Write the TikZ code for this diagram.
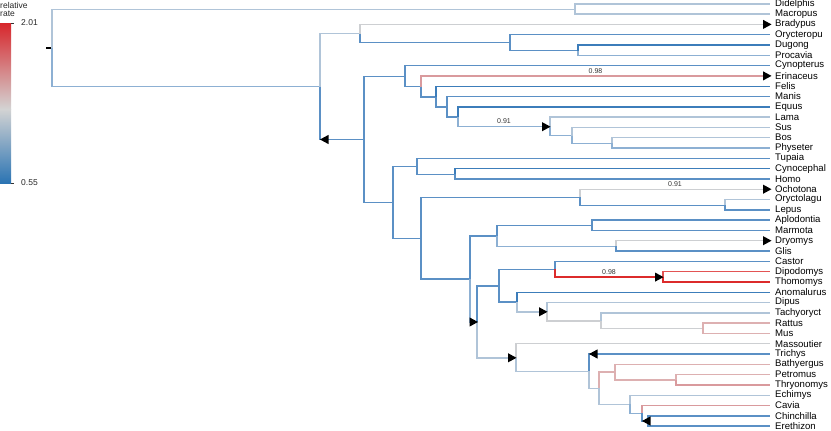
\documentclass[tikz,border=0pt]{standalone}
\usepackage{fontspec}
\setmainfont{Liberation Sans}
\usepackage{xcolor}
\usepackage{tikz}
\usetikzlibrary{calc}
\definecolor{rtA}{HTML}{3C7DBA}
\definecolor{rtB}{HTML}{5B90C5}
\definecolor{rtC}{HTML}{8DB0D3}
\definecolor{rtD}{HTML}{B0C4D8}
\definecolor{rtE}{HTML}{CDCFD2}
\definecolor{rtF}{HTML}{DDB0B1}
\definecolor{rtG}{HTML}{D99A9D}
\definecolor{rtH}{HTML}{E35454}
\definecolor{rtI}{HTML}{DC2B2B}
\definecolor{barTop}{HTML}{D7262B}
\definecolor{barMid}{HTML}{D3D3D3}
\definecolor{barBot}{HTML}{2B74B3}
\tikzset{
  branch/.style={line width=1.4pt},
  tiplab/.style={anchor=west, inner sep=0pt, font=\fontsize{9.6}{10}\selectfont},
  blab/.style={anchor=south, inner sep=0pt, font=\fontsize{7}{8}\selectfont, text=black!80},
  leglab/.style={anchor=west, inner sep=0pt, font=\fontsize{8.5}{9}\selectfont, text=black!85},
  mkR/.pic={\fill[black] (0,0) -- (-8.5,-4.6) -- (-8.5,4.6) -- cycle;},
  mkL/.pic={\fill[black] (0,0) -- (8.5,-4.6) -- (8.5,4.6) -- cycle;}
}

\begin{document}
\begin{tikzpicture}[x=1pt,y=-1pt]
  \useasboundingbox (0,0) rectangle (831,431);

  % legend
  \shade[top color=barTop, bottom color=barMid] (0,23) rectangle (11,109);
  \shade[top color=barMid, bottom color=barBot] (0,109) rectangle (11,183);
  \draw[black!80, line width=0.6pt] (11,23) -- (14,23) (11,183) -- (14,183);
  \node[leglab] (legA) at (0,5) {relative};
  \node[leglab] (legB) at (0,14) {rate};
  \node[leglab] (legHi) at (21,23) {2.01};
  \node[leglab] (legLo) at (21,183) {0.55};

  % tips
  \foreach \nm/\lab [count=\i from 0] in {didelphis/Didelphis, macropus/Macropus,
      bradypus/Bradypus, orycteropu/Orycteropu, dugong/Dugong, procavia/Procavia,
      cynopterus/Cynopterus, erinaceus/Erinaceus, felis/Felis, manis/Manis,
      equus/Equus, lama/Lama, sus/Sus, bos/Bos, physeter/Physeter, tupaia/Tupaia,
      cynocephal/Cynocephal, homo/Homo, ochotona/Ochotona, oryctolagu/Oryctolagu,
      lepus/Lepus, aplodontia/Aplodontia, marmota/Marmota, dryomys/Dryomys,
      glis/Glis, castor/Castor, dipodomys/Dipodomys, thomomys/Thomomys,
      anomalurus/Anomalurus, dipus/Dipus, tachyoryct/Tachyoryct, rattus/Rattus,
      mus/Mus, massoutier/Massoutier, trichys/Trichys, bathyergus/Bathyergus,
      petromus/Petromus, thryonomys/Thryonomys, echimys/Echimys, cavia/Cavia,
      chinchilla/Chinchilla, erethizon/Erethizon} {
    \coordinate (\nm) at (770,{3.8+10.3*\i});
    \node[tiplab] (\nm-l) at (775,{3.8+10.3*\i}) {\lab};
  }

  % internal nodes
  \coordinate (root) at (52,47.9);
  \coordinate (rs) at (46,47.9);
  \coordinate (mars) at (575,9.2);
  \coordinate (plac) at (320,86.6);
  \coordinate (atl) at (360,33.7);
  \coordinate (afro) at (510,42.7);
  \coordinate (afro2) at (578,50.5);
  \coordinate (boreo) at (364,139.5);
  \coordinate (laur) at (405,76.3);
  \coordinate (eri) at (421,86.5);
  \coordinate (fel) at (436,96.8);
  \coordinate (man) at (447,107);
  \coordinate (eqc) at (458,117);
  \coordinate (cet) at (550,126.7);
  \coordinate (susb) at (572,135.7);
  \coordinate (bospy) at (612,143.3);
  \coordinate (euarg) at (393,202.4);
  \coordinate (euar) at (417,166.5);
  \coordinate (prim) at (455,174.2);
  \coordinate (glires) at (421,238.2);
  \coordinate (lago) at (580,197.3);
  \coordinate (lepl) at (725,205.2);
  \coordinate (rod) at (470,279);
  \coordinate (sg) at (497,236);
  \coordinate (sciu) at (592,225.7);
  \coordinate (glir) at (616,246.3);
  \coordinate (sup2) at (477,322);
  \coordinate (sup1) at (499,285.8);
  \coordinate (cas) at (555,269.4);
  \coordinate (geo) at (663,277.1);
  \coordinate (ano) at (517,302.1);
  \coordinate (dip) at (547,311.8);
  \coordinate (tach) at (601,320.8);
  \coordinate (murid) at (703,328.4);
  \coordinate (mas) at (516,357.8);
  \coordinate (tri) at (589,371.2);
  \coordinate (hys) at (599,388.2);
  \coordinate (bath) at (615,372.1);
  \coordinate (pt) at (676,379.8);
  \coordinate (ech) at (630,404.3);
  \coordinate (cav) at (642,413.2);
  \coordinate (ere) at (648,421);

  % branches
  \draw[branch, black] (rs) -- (root);
  \foreach \c/\p/\k in {rtD/root/mars, rtD/mars/didelphis, rtD/mars/macropus,
      rtC/root/plac, rtD/plac/atl, rtE/atl/bradypus, rtB/atl/afro,
      rtB/afro/orycteropu, rtB/afro/afro2, rtA/afro2/dugong, rtC/afro2/procavia,
      rtB/plac/boreo, rtB/boreo/laur, rtB/laur/cynopterus, rtB/laur/eri,
      rtG/eri/erinaceus, rtB/eri/fel, rtA/fel/felis, rtB/fel/man, rtB/man/manis,
      rtB/man/eqc, rtA/eqc/equus, rtC/eqc/cet, rtD/cet/lama, rtC/cet/susb,
      rtD/susb/sus, rtC/susb/bospy, rtD/bospy/bos, rtC/bospy/physeter,
      rtB/boreo/euarg, rtB/euarg/euar, rtB/euar/tupaia, rtB/euar/prim,
      rtA/prim/cynocephal, rtB/prim/homo, rtB/euarg/glires, rtB/glires/lago,
      rtE/lago/ochotona, rtB/lago/lepl, rtD/lepl/oryctolagu, rtB/lepl/lepus,
      rtB/glires/rod, rtB/rod/sg, rtB/sg/sciu, rtB/sciu/aplodontia,
      rtB/sciu/marmota, rtC/sg/glir, rtE/glir/dryomys, rtB/glir/glis,
      rtC/rod/sup2, rtB/sup2/sup1, rtB/sup1/cas, rtB/cas/castor, rtI/cas/geo,
      rtH/geo/dipodomys, rtI/geo/thomomys, rtB/sup1/ano, rtA/ano/anomalurus,
      rtD/ano/dip, rtD/dip/dipus, rtE/dip/tach, rtD/tach/tachyoryct,
      rtE/tach/murid, rtF/murid/rattus, rtF/murid/mus, rtD/sup2/mas,
      rtE/mas/massoutier, rtD/mas/tri, rtB/tri/trichys, rtD/tri/hys,
      rtF/hys/bath, rtF/bath/bathyergus, rtF/bath/pt, rtF/pt/petromus,
      rtG/pt/thryonomys, rtD/hys/ech, rtD/ech/echimys, rtC/ech/cav,
      rtG/cav/cavia, rtB/cav/ere, rtB/ere/chinchilla, rtB/ere/erethizon} {
    \draw[branch, draw=\c] (\p) |- (\k);
  }

  % rate shift labels
  \node[blab] (bl1) at ($(eri |- erinaceus)!.5!(erinaceus)+(0,-2.5)$) {0.98};
  \node[blab] (bl2) at ($(eqc |- cet)!.5!(cet)+(0,-2.5)$) {0.91};
  \node[blab] (bl3) at ($(lago |- ochotona)!.5!(ochotona)+(0,-2.5)$) {0.91};
  \node[blab] (bl4) at ($(cas |- geo)!.5!(geo)+(0,-2.5)$) {0.98};

  % shift markers
  \pic at ($(bradypus)+(1.5,0)$) {mkR};
  \pic at ($(erinaceus)+(1.5,0)$) {mkR};
  \pic at ($(ochotona)+(1.5,0)$) {mkR};
  \pic at ($(dryomys)+(1.5,0)$) {mkR};
  \pic at ($(cet)+(0.5,0)$) {mkR};
  \pic at ($(geo)+(0.5,0)$) {mkR};
  \pic at ($(dip)+(0.5,0)$) {mkR};
  \pic at ($(mas)+(0.5,0)$) {mkR};
  \pic at ($(sup2)+(1,0)$) {mkR};
  \pic at (plac |- boreo) {mkL};
  \pic at (tri |- trichys) {mkL};
  \pic at (cav |- ere) {mkL};
\end{tikzpicture}
\end{document}
